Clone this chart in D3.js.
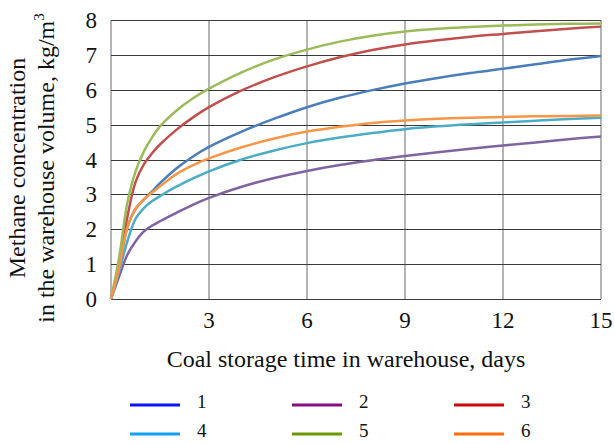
<!DOCTYPE html>
<html><head><meta charset="utf-8">
<script src="https://cdn.jsdelivr.net/npm/d3@7"></script>
<style>
html,body{margin:0;padding:0;background:#fff;}
svg{display:block;font-family:"Liberation Serif","Times New Roman",serif;}
</style></head>
<body>
<svg id="chart" width="614" height="444"></svg>
<script>
const days = [0, 0.25, 0.5, 0.75, 1, 1.25, 1.5, 2, 2.5, 3, 4, 5, 6, 7, 8, 9, 10, 11, 12, 13, 14, 15];
const series1 = [0, 0.9, 2.05, 2.58, 2.85, 3.08, 3.32, 3.74, 4.08, 4.36, 4.8, 5.17, 5.5, 5.77, 5.99, 6.18, 6.34, 6.48, 6.6, 6.73, 6.86, 6.97];
const series2 = [0, 0.65, 1.27, 1.65, 1.93, 2.1, 2.23, 2.47, 2.7, 2.9, 3.22, 3.47, 3.67, 3.84, 3.98, 4.1, 4.21, 4.31, 4.4, 4.49, 4.58, 4.66];
const series3 = [0, 1.0, 2.35, 3.35, 3.85, 4.17, 4.43, 4.85, 5.2, 5.5, 5.98, 6.36, 6.67, 6.93, 7.14, 7.3, 7.42, 7.52, 7.6, 7.68, 7.75, 7.81];
const series4 = [0, 0.8, 1.65, 2.3, 2.6, 2.8, 2.95, 3.22, 3.45, 3.66, 4.0, 4.26, 4.47, 4.63, 4.76, 4.87, 4.95, 5.01, 5.06, 5.11, 5.16, 5.2];
const series5 = [0, 1.2, 2.75, 3.65, 4.22, 4.62, 4.95, 5.4, 5.75, 6.03, 6.5, 6.87, 7.15, 7.38, 7.55, 7.67, 7.75, 7.8, 7.84, 7.87, 7.89, 7.9];
const series6 = [0, 0.9, 2.05, 2.58, 2.85, 3.05, 3.23, 3.58, 3.83, 4.03, 4.35, 4.6, 4.8, 4.94, 5.05, 5.12, 5.17, 5.2, 5.22, 5.24, 5.25, 5.26];
const seriesNames = ["1", "2", "3", "4", "5", "6"];
const xTicks = [3, 6, 9, 12, 15];
const yTicks = [0, 1, 2, 3, 4, 5, 6, 7, 8];
const xTitle = "Coal storage time in warehouse, days";
const yTitle1 = "Methane concentration";
const yTitle2 = "in the warehouse volume, kg/m";

const allSeries = [series1, series2, series3, series4, series5, series6];
const lineColors = ["#4a7ebb", "#8064a2", "#c0504d", "#4bacc6", "#9bbb59", "#f79646"];
const legendColors = ["#0a14f5", "#850e85", "#cc0a0a", "#0ea2f5", "#6a9a00", "#ff6a0a"];

const svg = d3.select("#chart");
const x = d3.scaleLinear().domain([0, 15]).range([111, 601]);
const y = d3.scaleLinear().domain([0, 8]).range([299, 20]);

// vertical gridlines (gray)
const vlines = [0].concat(xTicks);
svg.append("g").selectAll("line").data(vlines).join("line")
  .attr("x1", d => x(d)).attr("x2", d => x(d))
  .attr("y1", y(8)).attr("y2", y(0))
  .attr("stroke", "#b4b4b4").attr("stroke-width", 2);

// horizontal gridlines (dark)
svg.append("g").selectAll("line").data(yTicks).join("line")
  .attr("x1", x(0)).attr("x2", x(15))
  .attr("y1", d => Math.round(y(d)) + 0.5).attr("y2", d => Math.round(y(d)) + 0.5)
  .attr("stroke", "#3a3a3a").attr("stroke-width", 1.2);

// y tick labels
svg.append("g").selectAll("text").data(yTicks).join("text")
  .attr("x", 97).attr("y", d => y(d) + 8)
  .attr("text-anchor", "end").attr("font-size", 23).attr("fill", "#111")
  .text(d => d);

// x tick labels
svg.append("g").selectAll("text").data(xTicks).join("text")
  .attr("x", d => x(d)).attr("y", 328)
  .attr("text-anchor", "middle").attr("font-size", 23).attr("fill", "#111")
  .text(d => d);

// x title
svg.append("text").attr("x", 346).attr("y", 367)
  .attr("text-anchor", "middle").attr("font-size", 24).attr("fill", "#111")
  .text(xTitle);

// y title
const yt = svg.append("g").attr("transform", "translate(0,168) rotate(-90)");
yt.append("text").attr("x", 0).attr("y", 25).attr("text-anchor", "middle")
  .attr("font-size", 24).attr("fill", "#111").text(yTitle1);
const t2 = yt.append("text").attr("x", 0).attr("y", 53.5).attr("text-anchor", "middle")
  .attr("font-size", 24).attr("fill", "#111");
t2.append("tspan").text(yTitle2);
t2.append("tspan").attr("dy", -10).attr("font-size", 15).text("3");

// curves
const line = d3.line().x((d, i) => x(days[i])).y(d => y(d)).curve(d3.curveCatmullRom.alpha(0.5));
svg.append("g").selectAll("path").data(allSeries).join("path")
  .attr("d", d => line(d)).attr("fill", "none")
  .attr("stroke", (d, i) => lineColors[i]).attr("stroke-width", 2.5)
  .attr("stroke-linejoin", "round");

// legend
const colX = [130, 292, 454];
const rowY = [405, 434];
const lg = svg.append("g").selectAll("g").data(seriesNames).join("g")
  .attr("transform", (d, i) => `translate(${colX[i % 3]},${rowY[Math.floor(i / 3)]})`);
lg.append("line").attr("x1", 0).attr("x2", 50).attr("y1", 0).attr("y2", 0)
  .attr("stroke", (d, i) => legendColors[i]).attr("stroke-width", 3);
lg.append("text").attr("x", 67).attr("y", 3)
  .attr("font-size", 19).attr("fill", "#111").text(d => d);
</script>
</body></html>
